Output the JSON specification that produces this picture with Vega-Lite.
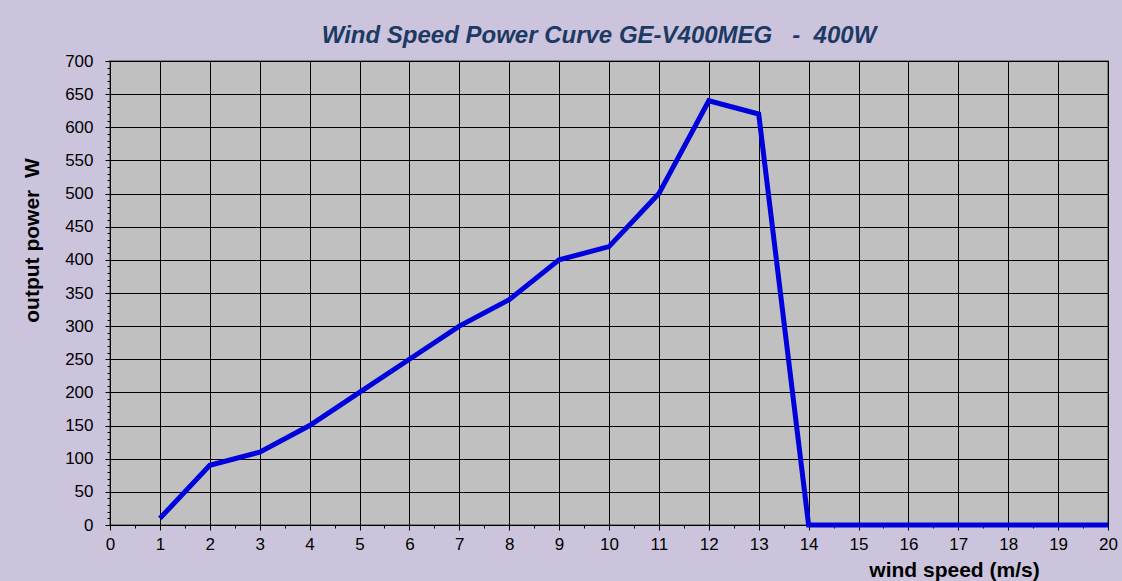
{
  "$schema": "https://vega.github.io/schema/vega-lite/v6.json",
  "width": 998,
  "height": 464,
  "autosize": {"type": "none"},
  "padding": {"left": 110, "top": 61, "right": 14, "bottom": 56},
  "background": "#CCC4DC",
  "config": {
    "font": "Liberation Sans",
    "view": {"fill": "#C0C0C0", "stroke": "#808080", "strokeWidth": 2}
  },
  "title": {
    "text": "Wind Speed Power Curve GE-V400MEG\u00a0\u00a0\u00a0-\u00a0\u00a0400W",
    "font": "Liberation Sans",
    "fontSize": 24,
    "fontStyle": "italic",
    "fontWeight": "bold",
    "color": "#1C3A64",
    "anchor": "middle",
    "dx": -10,
    "offset": 4
  },
  "data": {
    "values": [
      {"speed": 1, "power": 10},
      {"speed": 2, "power": 90},
      {"speed": 3, "power": 110},
      {"speed": 4, "power": 150},
      {"speed": 5, "power": 200},
      {"speed": 6, "power": 250},
      {"speed": 7, "power": 300},
      {"speed": 8, "power": 340},
      {"speed": 9, "power": 400},
      {"speed": 10, "power": 420},
      {"speed": 11, "power": 500},
      {"speed": 12, "power": 640},
      {"speed": 13, "power": 620},
      {"speed": 14, "power": 0},
      {"speed": 15, "power": 0},
      {"speed": 16, "power": 0},
      {"speed": 17, "power": 0},
      {"speed": 18, "power": 0},
      {"speed": 19, "power": 0},
      {"speed": 20, "power": 0}
    ]
  },
  "resolve": {"axis": {"x": "independent", "y": "independent"}},
  "layer": [
    {
      "mark": {"type": "rule", "opacity": 0},
      "encoding": {
        "x": {
          "field": "speed", "type": "quantitative",
          "scale": {"domain": [0, 20], "nice": false, "zero": false},
          "axis": {
            "orient": "bottom",
            "values": [0.5,1.5,2.5,3.5,4.5,5.5,6.5,7.5,8.5,9.5,10.5,11.5,12.5,13.5,14.5,15.5,16.5,17.5,18.5,19.5],
            "labels": false, "grid": false, "domain": false,
            "ticks": true, "tickSize": 3, "tickColor": "#000000", "tickWidth": 1, "title": null
          }
        },
        "y": {
          "field": "power", "type": "quantitative",
          "scale": {"domain": [0, 700], "nice": false},
          "axis": {
            "orient": "left",
            "values": [10,20,30,40,60,70,80,90,110,120,130,140,160,170,180,190,210,220,230,240,260,270,280,290,310,320,330,340,360,370,380,390,410,420,430,440,460,470,480,490,510,520,530,540,560,570,580,590,610,620,630,640,660,670,680,690],
            "labels": false, "grid": false, "domain": false,
            "ticks": true, "tickSize": 3, "tickColor": "#000000", "tickWidth": 1, "title": null
          }
        }
      }
    },
    {
      "mark": {"type": "line", "color": "#0000DD", "strokeWidth": 5, "strokeJoin": "miter"},
      "encoding": {
        "x": {
          "field": "speed", "type": "quantitative",
          "scale": {"domain": [0, 20], "nice": false, "zero": false},
          "axis": {
            "orient": "bottom",
            "values": [0,1,2,3,4,5,6,7,8,9,10,11,12,13,14,15,16,17,18,19,20],
            "grid": true, "gridColor": "#000000", "gridOpacity": 1, "gridWidth": 1,
            "domain": true, "domainColor": "#000000", "domainWidth": 1,
            "ticks": true, "tickSize": 5, "tickColor": "#000000", "tickWidth": 1,
            "labelFont": "Liberation Sans", "labelFontSize": 17, "labelColor": "#000000",
            "labelPadding": 6, "labelFlush": false,
            "title": "wind speed (m/s)",
            "titleFont": "Liberation Sans", "titleFontSize": 21, "titleFontWeight": "bold", "titleColor": "#000000",
            "titleX": 844, "titleY": 51, "titleAnchor": null, "titleAlign": "center", "titleBaseline": "alphabetic"
          }
        },
        "y": {
          "field": "power", "type": "quantitative",
          "scale": {"domain": [0, 700], "nice": false},
          "axis": {
            "orient": "left",
            "values": [0,50,100,150,200,250,300,350,400,450,500,550,600,650,700],
            "grid": true, "gridColor": "#000000", "gridOpacity": 1, "gridWidth": 1,
            "domain": true, "domainColor": "#000000", "domainWidth": 1,
            "ticks": true, "tickSize": 5, "tickColor": "#000000", "tickWidth": 1,
            "labelFont": "Liberation Sans", "labelFontSize": 17, "labelColor": "#000000",
            "labelPadding": 12, "labelFlush": false,
            "title": "output power\u00a0\u00a0W",
            "titleFont": "Liberation Sans", "titleFontSize": 21, "titleFontWeight": "bold", "titleColor": "#000000",
            "titleX": -72, "titleY": 179, "titleAngle": 270, "titleAlign": "center", "titleBaseline": "alphabetic"
          }
        }
      }
    }
  ]
}
